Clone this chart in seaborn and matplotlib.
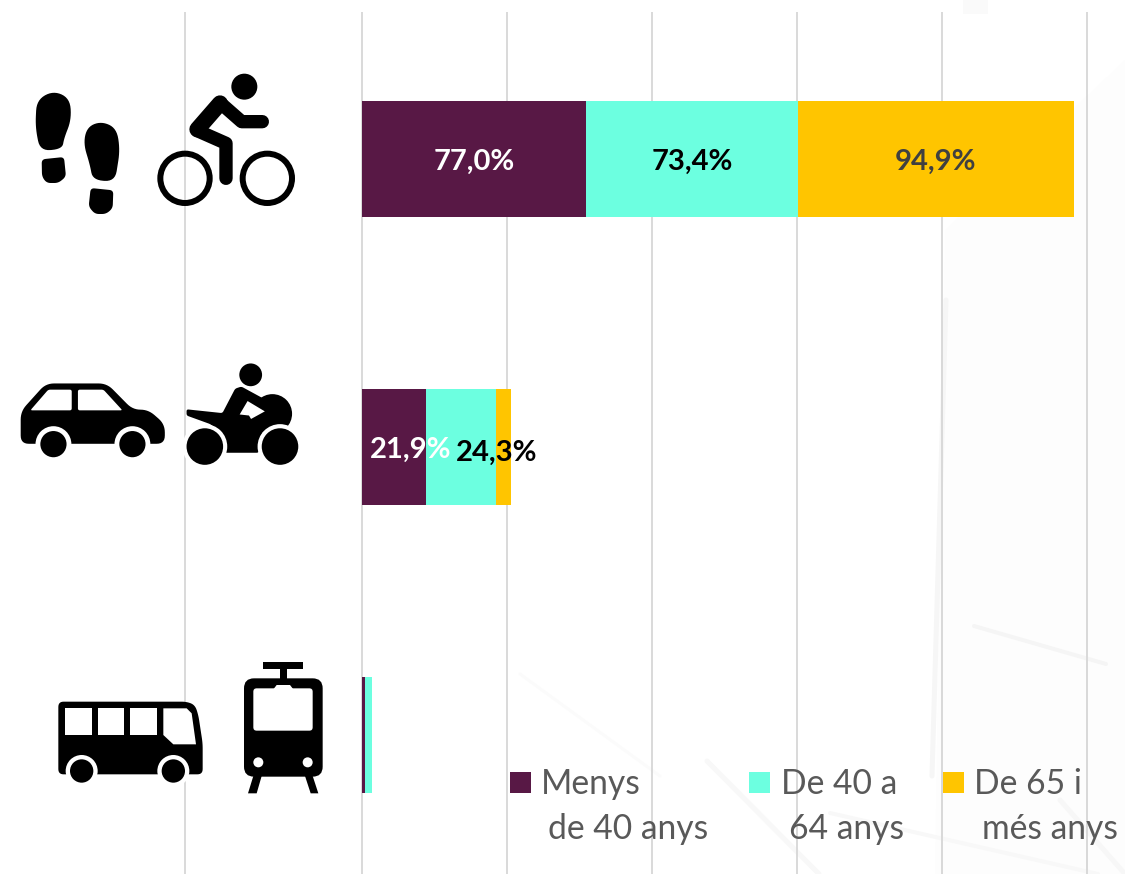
import numpy as np
import pandas as pd
import matplotlib
matplotlib.use("Agg")
import matplotlib.pyplot as plt
from matplotlib.patches import Circle, Polygon, FancyBboxPatch, Rectangle
import seaborn as sns

modes = ["A peu o bicicleta", "Cotxe o moto", "Transport públic"]
ages = ["Menys de 40 anys", "De 40 a 64 anys", "De 65 i més anys"]
under_40 = [77.0, 21.9, 1.1]
from_40_to_64 = [73.4, 24.3, 2.3]
over_65 = [94.9, 5.1, 0.0]
colors = ["#581845", "#6CFFE0", "#FFC500"]

W, H, DPI = 1125, 874, 100
PX_PER_UNIT = 2.9
X0 = 362.2
GRID_TOP = 12

sns.set_theme(style="white")
plt.rcParams["font.family"] = ["Lato", "DejaVu Sans"]

cum1 = np.array(under_40)
cum2 = cum1 + np.array(from_40_to_64)
cum3 = cum2 + np.array(over_65)
df = pd.DataFrame({
    "mode": modes * 3,
    "age": [a for a in ages for _ in modes],
    "end": np.concatenate([cum1, cum2, cum3]),
})

fig = plt.figure(figsize=(W / DPI, H / DPI), dpi=DPI, facecolor="white")


def lw(px):
    return px * 72 / DPI


# faint background artwork
bg = fig.add_axes([0, 0, 1, 1], facecolor="white")
bg.set_xlim(0, W)
bg.set_ylim(H, 0)
bg.axis("off")
bg.add_patch(Polygon([(945, 230), (1125, 60), (1125, 874), (935, 874)], fc="#FDFDFD", ec="none"))
bg.add_patch(Rectangle((963, 0), 25, 14, fc="#FAFAFA", ec="none"))
for (xa, ya, xb, yb, wd, col) in [
    (946, 300, 932, 776, 5, "#F6F6F6"),
    (974, 626, 1106, 664, 4, "#F5F5F5"),
    (707, 761, 819, 874, 5, "#F8F8F8"),
    (520, 674, 660, 776, 3, "#FBFBFB"),
    (830, 813, 1098, 874, 4, "#F8F8F8"),
    (1060, 800, 1125, 874, 5, "#F7F7F7"),
]:
    bg.plot([xa, xb], [ya, yb], color=col, lw=lw(wd), solid_capstyle="round")

ax = fig.add_axes([0, 0, 1, (H - GRID_TOP) / H], facecolor="none")
sns.barplot(data=df, y="mode", x="end", hue="age", hue_order=ages[::-1],
            palette=dict(zip(ages, colors)), dodge=False, width=0.4,
            legend=False, errorbar=None, saturation=1, linewidth=0, ax=ax, zorder=3)
ax.set_xlim(-X0 / PX_PER_UNIT, (W - X0) / PX_PER_UNIT)
ax.set_ylim((H - 159) / 288, (GRID_TOP - 159) / 288)
ax.set_xticks([-61, 0, 50, 100, 150, 200, 250])
ax.set_xticklabels([])
ax.set_yticks(range(3))
ax.set_yticklabels([])
ax.set_xlabel("")
ax.set_ylabel("")
ax.tick_params(length=0)
ax.grid(axis="x", color="#D9D9D9", lw=1.4, zorder=0)
ax.grid(axis="y", visible=False)
ax.set_axisbelow(True)
for s in ax.spines.values():
    s.set_visible(False)


def pct(v):
    return f"{v:.1f}%".replace(".", ",")


LBL = dict(fontsize=21, fontweight="bold", ha="center", va="center", zorder=5)
ax.text(under_40[0] / 2, 0.01, pct(under_40[0]), color="white", **LBL)
ax.text(under_40[0] + from_40_to_64[0] / 2, 0.01, pct(from_40_to_64[0]), color="black", **LBL)
ax.text(cum2[0] + over_65[0] / 2, 0.01, pct(over_65[0]), color="#404040", **LBL)
ax.text(16.8, 1.01, pct(under_40[1]), color="white", **LBL)
ax.text(46.4, 1.02, pct(from_40_to_64[1]), color="black", **LBL)

# overlay in pixel coordinates: pictograms and legend
ov = fig.add_axes([0, 0, 1, 1], facecolor="none")
ov.set_xlim(0, W)
ov.set_ylim(H, 0)
ov.axis("off")


def rounded(pts, r, n=8):
    p = np.array(pts, float)
    out = []
    m = len(p)
    for i in range(m):
        a, b, c = p[i - 1], p[i], p[(i + 1) % m]
        ra = min(r, np.linalg.norm(a - b) / 2)
        rc = min(r, np.linalg.norm(c - b) / 2)
        s = b + (a - b) / np.linalg.norm(a - b) * ra
        e = b + (c - b) / np.linalg.norm(c - b) * rc
        for t in np.linspace(0, 1, n):
            out.append((1 - t) ** 2 * s + 2 * t * (1 - t) * b + t ** 2 * e)
    return np.array(out)


def map_pts(pts, ox, oy, s):
    return [(ox + x / s, oy + y / s) for x, y in pts]


def poly(pts, ox, oy, s, color="black", r=0, z=6):
    q = map_pts(pts, ox, oy, s)
    if r:
        q = rounded(q, r / s)
    ov.add_patch(Polygon(q, closed=True, fc=color, ec="none", zorder=z))


def circ(x, y, r, ox, oy, s, color="black", z=6, **kw):
    ov.add_patch(Circle((ox + x / s, oy + y / s), r / s, fc=color, ec="none", zorder=z, **kw))


# shoes
o = (0, 60, 3)
poly([(106, 200), (110, 120), (160, 92), (210, 115), (214, 180), (192, 235), (187, 267), (120, 273)], *o, r=32)
poly([(125, 298), (192, 291), (198, 350), (175, 369), (140, 369), (126, 350)], *o, r=12)
poly([(250, 250), (262, 200), (305, 184), (350, 205), (360, 270), (345, 365), (278, 360), (270, 315)], *o, r=32)
poly([(272, 384), (340, 391), (338, 445), (318, 462), (285, 462), (266, 440)], *o, r=12)

# cyclist
circ(733, 80, 39, *o)
for cx in (555, 802):
    ov.add_patch(Circle((cx / 3, 60 + 355 / 3), 74 / 3, fc="none", ec="black", lw=lw(6), zorder=6))


def stroke(pts, width, ox, oy, s):
    q = np.array(map_pts(pts, ox, oy, s))
    ov.plot(q[:, 0], q[:, 1], color="black", lw=lw(width / s), solid_capstyle="round",
            solid_joinstyle="round", zorder=6)


stroke([(660, 130), (592, 208)], 48, *o)
stroke([(660, 128), (725, 185), (787, 185)], 40, *o)
stroke([(592, 212), (678, 250), (678, 355)], 40, *o)

# car
o = (0, 350, 2.9)
poly([(60, 178), (133, 97), (310, 97), (385, 173), (430, 173), (478, 215), (478, 272), (60, 272)], *o, r=24)
poly([(88, 175), (140, 115), (208, 115), (208, 175)], *o, color="white", r=6)
poly([(226, 175), (226, 115), (300, 115), (355, 175)], *o, color="white", r=6)
for cx in (155, 384):
    circ(cx, 273, 52, *o, color="white", z=7)
    circ(cx, 273, 38, *o, z=8)

# motorcycle
circ(727, 72, 33, *o)
circ(790, 185, 57, *o)
poly([(541, 172), (645, 183), (682, 112), (700, 106), (790, 155), (800, 215), (760, 240), (750, 298),
      (650, 298), (640, 240), (610, 215), (541, 190)], *o, r=6)
poly([(718, 148), (768, 178), (728, 200), (722, 190), (695, 187)], *o, color="white")
circ(594, 280, 65, *o, color="white", z=7)
circ(812, 280, 65, *o, color="white", z=7)
circ(594, 280, 53, *o, z=8)
circ(812, 280, 53, *o, z=8)

# bus
o = (40, 650, 3)
poly([(55, 155), (440, 155), (465, 165), (475, 195), (488, 280), (488, 373), (55, 373)], *o, r=16)
for x0 in (75, 173, 271):
    poly([(x0, 175), (x0 + 80, 175), (x0 + 80, 255), (x0, 255)], *o, color="white", z=7)
poly([(370, 175), (440, 175), (455, 190), (468, 283), (400, 283), (370, 255)], *o, color="white", z=7)
for cx in (125, 400):
    circ(cx, 363, 48, *o, color="white", z=7)
    circ(cx, 363, 35, *o, z=8)


# tram
def rrect(x0, y0, x1, y1, r, color, z):
    ov.add_patch(FancyBboxPatch((40 + (x0 + r) / 3, 650 + (y0 + r) / 3), (x1 - x0 - 2 * r) / 3, (y1 - y0 - 2 * r) / 3,
                                boxstyle=f"round,pad={r / 3},rounding_size={r / 3}", fc=color, ec="none", zorder=z))


rrect(612, 85, 848, 380, 30, "black", 6)
rrect(640, 115, 818, 242, 10, "white", 7)
poly([(700, 118), (710, 105), (750, 105), (760, 118)], *o, color="white", z=7)
poly([(670, 36), (789, 36), (789, 56), (670, 56)], *o)
poly([(720, 56), (740, 56), (740, 90), (720, 90)], *o)
circ(655, 337, 15, *o, color="white", z=7)
circ(803, 337, 15, *o, color="white", z=7)
poly([(640, 378), (665, 378), (650, 430), (624, 430)], *o)
poly([(795, 378), (818, 378), (835, 430), (812, 430)], *o)

# legend
swatch_x = [510, 749, 943]
first = ["Menys", "De 40 a", "De 65 i"]
second = ["de 40 anys", "64 anys", "més anys"]
second_x = [548, 789, 982]
first_x = [541, 781, 974]
for i in range(3):
    ov.add_patch(Rectangle((swatch_x[i], 772), 21, 21, fc=colors[i], ec="none", zorder=6))
    ov.text(first_x[i], 784, first[i], fontsize=24.2, color="#595959", va="center", ha="left", zorder=6)
    ov.text(second_x[i], 829, second[i], fontsize=24.2, color="#595959", va="center", ha="left", zorder=6)

fig.savefig("out.png", dpi=DPI, facecolor="white")
